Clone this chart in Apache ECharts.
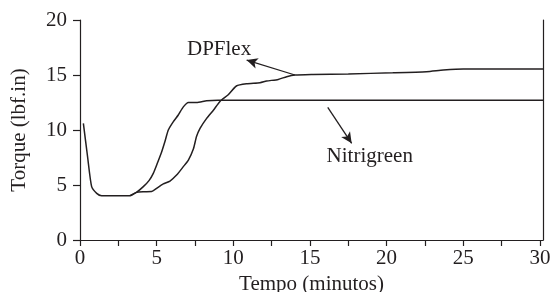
<!DOCTYPE html>
<html>
<head>
    <meta charset="UTF-8">
    <title>Torque x Tempo</title>
    <script src="https://cdn.jsdelivr.net/npm/echarts@6/dist/echarts.min.js"></script>
    <style>
        html, body { margin: 0; padding: 0; background: #fff; }
        #main { width: 550px; height: 292px; }
    </style>
</head>
<body>
    <div id="main"></div>
    <script type="text/javascript">
        // tempo (min), torque (lbf.in)
        var nitriT = [0.22, 0.5, 0.76, 1.09, 1.41, 2.0, 2.6, 3.26, 3.7, 4.13, 4.5, 4.78, 5.05, 5.33, 5.55, 5.76, 6.09, 6.41, 6.74, 7.07, 7.6, 8.26, 9.0, 12.0, 16.0, 20.0, 25.0, 30.2];
        var nitriV = [10.6, 7.5, 4.85, 4.24, 4.03, 4.03, 4.03, 4.03, 4.35, 4.85, 5.4, 6.06, 7.0, 8.03, 9.0, 10.0, 10.76, 11.36, 12.1, 12.5, 12.5, 12.65, 12.7, 12.7, 12.7, 12.7, 12.7, 12.7];

        var dpT = [3.26, 3.7, 4.2, 4.67, 5.0, 5.43, 5.87, 6.3, 6.74, 7.07, 7.4, 7.6, 7.83, 8.26, 8.7, 9.13, 9.67, 10.2, 10.87, 11.74, 12.17, 12.93, 13.48, 14.02, 15.2, 17.5, 20.4, 22.6, 23.7, 25.0, 27.5, 30.2];
        var dpV = [4.03, 4.33, 4.38, 4.4, 4.7, 5.1, 5.36, 5.9, 6.67, 7.27, 8.3, 9.4, 10.15, 11.06, 11.8, 12.6, 13.2, 14.0, 14.2, 14.3, 14.45, 14.6, 14.85, 15.0, 15.05, 15.1, 15.2, 15.3, 15.45, 15.55, 15.55, 15.55];

        var xTicks = [0, 2.5, 5, 7.5, 10, 12.5, 15, 17.5, 20, 22.5, 25, 27.5, 30];
        var xLabels = [0, 5, 10, 15, 20, 25, 30];

        function pares(t, v) {
            var out = [];
            for (var i = 0; i < t.length; i++) {
                out.push([t[i], v[i]]);
            }
            return out;
        }

        var fonte = '"Liberation Serif", "DejaVu Serif", serif';
        var tam = 21;
        var myChart = echarts.init(document.getElementById('main'));

        var option = {
            animation: false,
            textStyle: { fontFamily: fonte },
            grid: { left: 80, right: 7, top: 20, bottom: 52, outerBoundsMode: 'none' },
            xAxis: {
                type: 'value',
                min: 0,
                max: 30.2,
                name: 'Tempo (minutos)',
                nameLocation: 'middle',
                nameGap: 33,
                nameTextStyle: { color: '#231f20', fontSize: tam, fontFamily: fonte },
                axisLine: { lineStyle: { color: '#231f20', width: 1.2 } },
                axisTick: { length: 6, customValues: xTicks, lineStyle: { color: '#231f20', width: 1.2 } },
                axisLabel: { customValues: xLabels, margin: 8, color: '#231f20', fontSize: tam, fontFamily: fonte },
                splitLine: { show: false }
            },
            yAxis: [
                {
                    type: 'value',
                    min: 0,
                    max: 20,
                    interval: 5,
                    name: 'Torque (lbf.in)',
                    nameLocation: 'middle',
                    nameGap: 50,
                    nameTextStyle: { color: '#231f20', fontSize: tam, fontFamily: fonte },
                    axisLine: { show: true, lineStyle: { color: '#231f20', width: 1.2 } },
                    axisTick: { show: true, length: 7, lineStyle: { color: '#231f20', width: 1.2 } },
                    axisLabel: { margin: 13, color: '#231f20', fontSize: tam, fontFamily: fonte },
                    splitLine: { show: false }
                },
                {
                    type: 'value',
                    min: 0,
                    max: 20,
                    position: 'right',
                    axisLine: { show: true, lineStyle: { color: '#231f20', width: 1.2 } },
                    axisTick: { show: false },
                    axisLabel: { show: false },
                    splitLine: { show: false }
                }
            ],
            series: [
                {
                    name: 'Nitrigreen',
                    type: 'line',
                    data: pares(nitriT, nitriV),
                    showSymbol: false,
                    smooth: 0.2,
                    lineStyle: { color: '#231f20', width: 1.5 },
                    markLine: {
                        silent: true,
                        symbol: ['none', 'arrow'],
                        symbolSize: [8, 11],
                        label: { show: false },
                        lineStyle: { color: '#231f20', width: 1.3, type: 'solid' },
                        data: [[{ coord: [16.16, 12.06] }, { coord: [17.72, 8.79] }]]
                    },
                    markPoint: {
                        silent: true,
                        symbol: 'circle',
                        symbolSize: 0,
                        label: { show: true, color: '#231f20', fontSize: tam, fontFamily: fonte, formatter: 'Nitrigreen' },
                        data: [{ coord: [18.9, 7.6] }]
                    }
                },
                {
                    name: 'DPFlex',
                    type: 'line',
                    data: pares(dpT, dpV),
                    showSymbol: false,
                    smooth: 0.2,
                    lineStyle: { color: '#231f20', width: 1.5 },
                    markLine: {
                        silent: true,
                        symbol: ['none', 'arrow'],
                        symbolSize: [8, 11],
                        label: { show: false },
                        lineStyle: { color: '#231f20', width: 1.3, type: 'solid' },
                        data: [[{ coord: [14.02, 15.0] }, { coord: [10.87, 16.36] }]]
                    },
                    markPoint: {
                        silent: true,
                        symbol: 'circle',
                        symbolSize: 0,
                        label: { show: true, color: '#231f20', fontSize: tam, fontFamily: fonte, formatter: 'DPFlex' },
                        data: [{ coord: [9.07, 17.36] }]
                    }
                }
            ]
        };

        myChart.setOption(option);
    </script>
</body>
</html>
